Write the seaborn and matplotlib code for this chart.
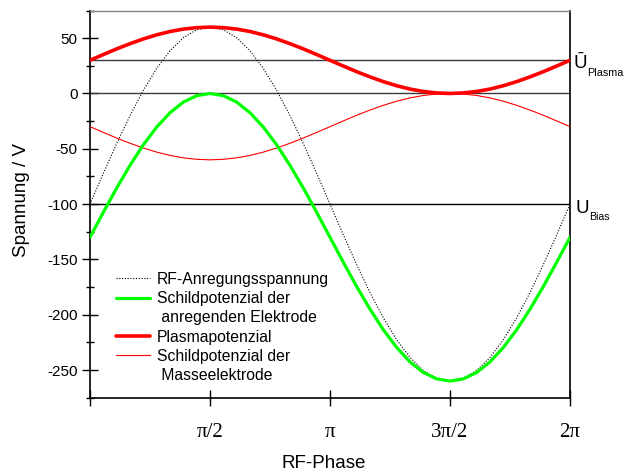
import matplotlib
matplotlib.use("Agg")
import matplotlib.pyplot as plt
from matplotlib.lines import Line2D
import numpy as np
import pandas as pd
import seaborn as sns

# RF phase in degrees (one full period)
phase_deg = list(range(0, 361, 10))

# RF excitation voltage
rf_voltage = [-100.0, -72.2, -45.3, -20.0, 2.8, 22.6, 38.6, 50.4, 57.6, 60.0,
              57.6, 50.4, 38.6, 22.6, 2.8, -20.0, -45.3, -72.2, -100.0,
              -127.8, -154.7, -180.0, -202.8, -222.6, -238.6, -250.4, -257.6, -260.0,
              -257.6, -250.4, -238.6, -222.6, -202.8, -180.0, -154.7, -127.8, -100.0]

# Sheath potential at the driven electrode
sheath_driven = [-130.0, -107.4, -85.5, -65.0, -46.4, -30.4, -17.4, -7.8, -2.0, 0.0,
                 -2.0, -7.8, -17.4, -30.4, -46.4, -65.0, -85.5, -107.4, -130.0,
                 -152.6, -174.5, -195.0, -213.6, -229.6, -242.6, -252.2, -258.0, -260.0,
                 -258.0, -252.2, -242.6, -229.6, -213.6, -195.0, -174.5, -152.6, -130.0]

# Plasma potential
plasma = [30.0, 35.2, 40.3, 45.0, 49.3, 53.0, 56.0, 58.2, 59.5, 60.0,
          59.5, 58.2, 56.0, 53.0, 49.3, 45.0, 40.3, 35.2, 30.0,
          24.8, 19.7, 15.0, 10.7, 7.0, 4.0, 1.8, 0.5, 0.0,
          0.5, 1.8, 4.0, 7.0, 10.7, 15.0, 19.7, 24.8, 30.0]

# Sheath potential at the grounded electrode
sheath_ground = [-30.0, -35.2, -40.3, -45.0, -49.3, -53.0, -56.0, -58.2, -59.5, -60.0,
                 -59.5, -58.2, -56.0, -53.0, -49.3, -45.0, -40.3, -35.2, -30.0,
                 -24.8, -19.7, -15.0, -10.7, -7.0, -4.0, -1.8, -0.5, 0.0,
                 -0.5, -1.8, -4.0, -7.0, -10.7, -15.0, -19.7, -24.8, -30.0]

mean_plasma = 30
bias = -100

y_ticks = [-250, -200, -150, -100, -50, 0, 50]
x_ticks = [0, 90, 180, 270, 360]
x_tick_labels = ["", "π/2", "π", "3π/2", "2π"]

legend_labels = ["RF-Anregungsspannung", "Schildpotenzial der", " anregenden Elektrode",
                 "Plasmapotenzial", "Schildpotenzial der", " Masseelektrode"]

df = pd.DataFrame({"phase": phase_deg, "rf": rf_voltage, "driven": sheath_driven,
                   "plasma": plasma, "ground": sheath_ground})

sns.set_theme(style="ticks")
plt.rcParams["font.family"] = ["Liberation Sans", "DejaVu Sans"]
plt.rcParams["axes.unicode_minus"] = False
plt.rcParams["text.color"] = "black"
plt.rcParams["axes.labelcolor"] = "black"
plt.rcParams["xtick.color"] = "black"
plt.rcParams["ytick.color"] = "black"

fig = plt.figure(figsize=(6.24, 4.72), dpi=100)
ax = fig.add_axes([90 / 624, 1 - 397.7 / 472, 480 / 624, 387.2 / 472])

# reference levels
ax.axhline(mean_plasma, color="#3a3a3a", lw=1.0, zorder=1)
ax.axhline(0, color="#3a3a3a", lw=1.0, zorder=1)
ax.axhline(bias, color="black", lw=1.0, zorder=1)

red = "#ff0000"
green = "#00ff00"
sns.lineplot(data=df, x="phase", y="rf", ax=ax, color="black", lw=0.8,
             linestyle=(0, (1, 1.5)), zorder=2)
sns.lineplot(data=df, x="phase", y="ground", ax=ax, color=red, lw=0.8, zorder=3)
sns.lineplot(data=df, x="phase", y="driven", ax=ax, color=green, lw=2.3, zorder=4)
sns.lineplot(data=df, x="phase", y="plasma", ax=ax, color=red, lw=2.6, zorder=5)

ax.set_xlim(0, 360)
ax.set_ylim(-275, 75)
ax.set_xlabel("")
ax.set_ylabel("")

ax.set_yticks(y_ticks)
ax.set_yticks(list(range(-275, 76, 50)), minor=True)
ax.set_xticks(x_ticks)
ax.set_xticklabels(x_tick_labels, family=["Liberation Serif", "DejaVu Serif"], fontsize=15)
ax.tick_params(axis="y", which="major", direction="inout", length=11, width=1.0,
               labelsize=11, pad=3.3, color="black", labelcolor="black")
ax.tick_params(axis="y", which="minor", direction="inout", length=5.5, width=1.0,
               color="black")
ax.tick_params(axis="x", which="major", direction="inout", length=11, width=1.0,
               pad=12.5, color="black", labelcolor="black")

for side in ["left", "bottom", "right"]:
    ax.spines[side].set_visible(True)
    ax.spines[side].set_color("black")
    ax.spines[side].set_linewidth(1.2)
ax.spines["top"].set_visible(True)
ax.spines["top"].set_color("#808080")
ax.spines["top"].set_linewidth(1.0)

# legend: continuation lines get empty handles
blank = Line2D([], [], color="none")
handles = [Line2D([], [], color="black", lw=0.8, linestyle=(0, (1, 1.5))),
           Line2D([], [], color=green, lw=2.3), blank,
           Line2D([], [], color=red, lw=2.6),
           Line2D([], [], color=red, lw=0.8), blank]
ax.legend(handles, legend_labels, loc="upper left", bbox_to_anchor=(0.054, 0.325),
          frameon=False, fontsize=11.3, borderpad=0, borderaxespad=0,
          handlelength=2.15, handletextpad=0.45, labelspacing=0.27)

# level labels on the right side
ytrans = ax.get_yaxis_transform()
ax.annotate("Ū", xy=(1, mean_plasma), xycoords=ytrans, xytext=(2.6, -5.8),
            textcoords="offset points", ha="left", va="baseline", fontsize=13.5,
            annotation_clip=False)
ax.annotate("Plasma", xy=(1, mean_plasma), xycoords=ytrans, xytext=(12.5, -11.5),
            textcoords="offset points", ha="left", va="baseline", fontsize=7.8,
            annotation_clip=False)
ax.annotate("U", xy=(1, bias), xycoords=ytrans, xytext=(3.8, -6.5),
            textcoords="offset points", ha="left", va="baseline", fontsize=13.5,
            annotation_clip=False)
ax.annotate("Bias", xy=(1, bias), xycoords=ytrans, xytext=(13.9, -11.5),
            textcoords="offset points", ha="left", va="baseline", fontsize=7.6,
            annotation_clip=False)

fig.text(22 / 624, 1 - 200 / 472, "Spannung / V", rotation=90, ha="center",
         va="center", fontsize=13.5)
fig.text(324 / 624, 1 - 463 / 472, "RF-Phase", ha="center", va="center", fontsize=13.5)

fig.savefig("out.png", dpi=100)
